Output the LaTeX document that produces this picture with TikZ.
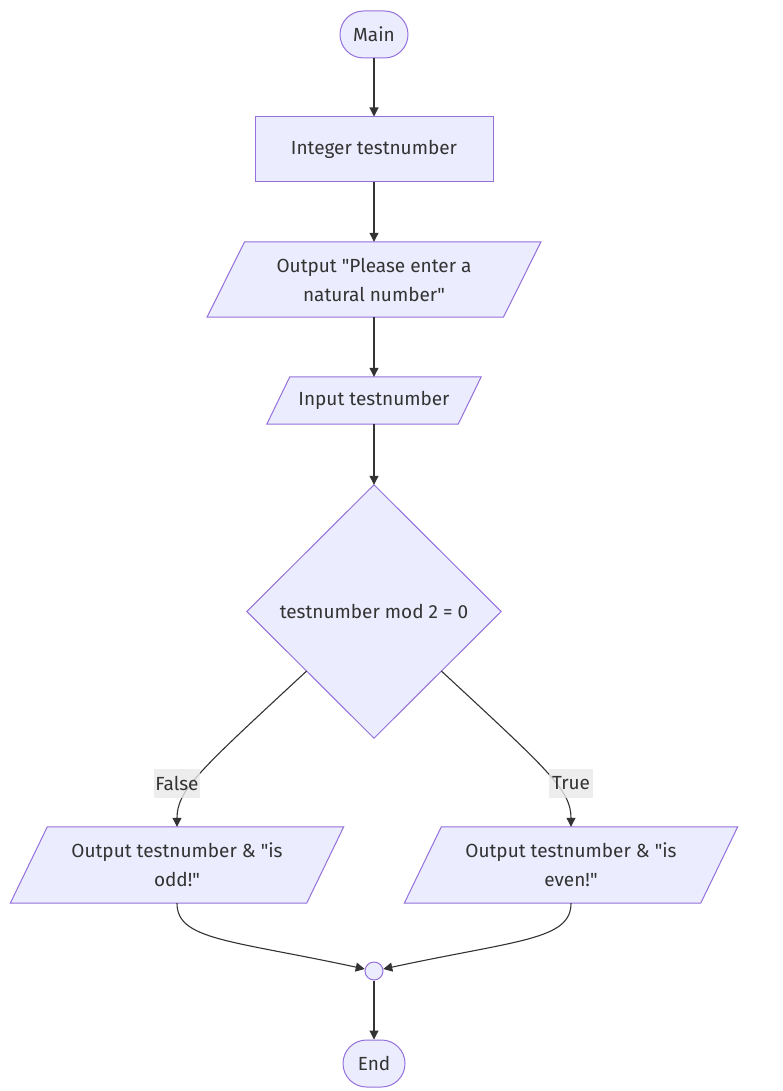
\documentclass[tikz,border=0pt]{standalone}
\usepackage{fontspec}
\setmainfont{Fira Sans}[Ligatures=TeXOff]
\usetikzlibrary{arrows.meta,backgrounds,calc}
\definecolor{nodefill}{HTML}{ECECFF}
\definecolor{nodeborder}{HTML}{9370DB}
\definecolor{txt}{HTML}{333333}
\definecolor{lblbg}{HTML}{E8E8E8}
\begin{document}
\begin{tikzpicture}[x=1pt,y=-1pt,
  shapefill/.style={draw=nodeborder, fill=nodefill, line width=1pt},
  lbl/.style={text=txt, font=\fontsize{19}{29}\selectfont, align=center, inner sep=0pt},
  stadium/.style={lbl, shapefill, rounded corners=23.5pt, minimum height=47pt},
  plainbox/.style={lbl, shapefill, minimum width=238pt, minimum height=65pt},
  holder/.style={lbl, minimum width=#1},
  edge/.style={draw=txt, line width=1.1pt, -{Triangle[length=9pt,width=9pt]}},
  edgelabel/.style={lbl, fill=lblbg, fill opacity=0.8, text opacity=1, inner xsep=1pt, minimum width=44pt, minimum height=29pt}
]
\useasboundingbox (0,0) rectangle (783,1091);

% nodes
\node[stadium, minimum width=68pt] (main) at (374,34.5) {Main};
\node[plainbox] (int) at (374,149.5) {Integer testnumber};
\node[holder=296pt, minimum height=75pt] (out) at (374,279.5) {Output "Please enter a\\natural number"};
\node[holder=191pt, minimum height=47pt] (inp) at (374,400.5) {Input testnumber};
\node[holder=254pt, minimum height=253pt] (dec) at (374,611.5) {testnumber mod 2 = 0};
\node[holder=296pt, minimum height=76pt] (odd) at (177,865) {Output testnumber \& "is\\odd!"};
\node[holder=296pt, minimum height=76pt] (even) at (571,865) {Output testnumber \& "is\\even!"};
\node[shapefill, circle, minimum size=18pt, inner sep=0pt] (join) at (374,971) {};
\node[stadium, minimum width=62pt] (end) at (374,1063.5) {End};

\begin{scope}[on background layer]
  \path[shapefill] ([xshift=18.75pt]out.north west) -- ([xshift=18.75pt]out.north east)
     -- ([xshift=-18.75pt]out.south east) -- ([xshift=-18.75pt]out.south west) -- cycle;
  \path[shapefill] ([xshift=11.5pt]inp.north west) -- ([xshift=11.5pt]inp.north east)
     -- ([xshift=-11.5pt]inp.south east) -- ([xshift=-11.5pt]inp.south west) -- cycle;
  \path[shapefill] (dec.north) -- (dec.east) -- (dec.south) -- (dec.west) -- cycle;
  \path[shapefill] ([xshift=18.5pt]odd.north west) -- ([xshift=18.5pt]odd.north east)
     -- ([xshift=-18.5pt]odd.south east) -- ([xshift=-18.5pt]odd.south west) -- cycle;
  \path[shapefill] ([xshift=18.5pt]even.north west) -- ([xshift=18.5pt]even.north east)
     -- ([xshift=-18.5pt]even.south east) -- ([xshift=-18.5pt]even.south west) -- cycle;
\end{scope}

% connectors
\draw[edge] (main.south) -- (int.north);
\draw[edge] (int.south) -- (out.north);
\draw[edge] (out.south) -- (inp.north);
\draw[edge] (inp.south) -- (dec.north);

\coordinate (fstart) at ($(dec.west)!0.47!(dec.south)$);
\coordinate (tstart) at ($(dec.east)!0.47!(dec.south)$);
\draw[edge] (fstart) .. controls (200,770) and (odd.north |- 0,790) .. (odd.north);
\draw[edge] (tstart) .. controls (548,770) and (even.north |- 0,790) .. (even.north);
\node[edgelabel] (flabel) at (177,783) {False};
\node[edgelabel] (tlabel) at (571,783) {True};

\draw[edge] (odd.south) .. controls (odd.south |- 0,940) and (230,940) .. (join);
\draw[edge] (even.south) .. controls (even.south |- 0,940) and (518,940) .. (join);
\draw[edge] (join) -- (end.north);
\end{tikzpicture}
\end{document}
